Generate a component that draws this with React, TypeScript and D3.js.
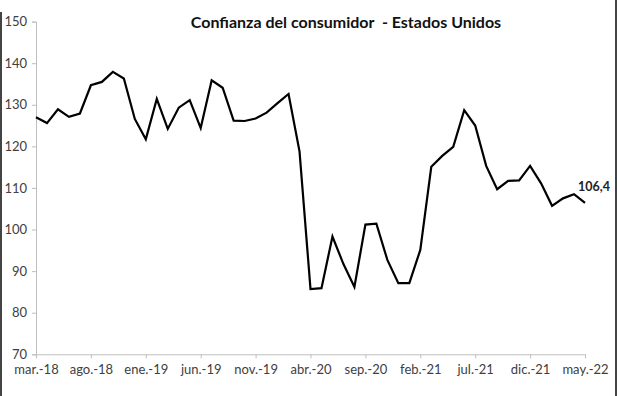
import { useEffect, useRef } from "react";
import * as d3 from "d3";

// monthly values, mar-18 .. may-22
const values = [
  127.0, 125.6, 128.9, 127.1, 127.9, 134.7, 135.5, 137.9, 136.3, 126.6,
  121.7, 131.4, 124.2, 129.3, 131.1, 124.4, 135.9, 134.1, 126.2, 126.1,
  126.7, 128.1, 130.4, 132.6, 118.8, 85.7, 85.9, 98.3, 91.7, 86.2,
  101.2, 101.4, 92.7, 87.1, 87.1, 95.1, 115.1, 117.7, 119.9, 128.7,
  125.0, 115.3, 109.7, 111.7, 111.8, 115.3, 111.1, 105.7, 107.5, 108.5,
  106.4,
];
const tickLabels = [
  "mar.-18", "ago.-18", "ene.-19", "jun.-19", "nov.-19", "abr.-20",
  "sep.-20", "feb.-21", "jul.-21", "dic.-21", "may.-22",
];
const yTicks = [70, 80, 90, 100, 110, 120, 130, 140, 150];
const title = "Confianza del consumidor  - Estados Unidos";
const lastLabel = "106,4";

const W = 617;
const H = 396;
const font = "Lato, 'Open Sans', sans-serif";

const App = () => {
  const svgRef = useRef<SVGSVGElement>(null);

  useEffect(() => {
    const svg = d3.select(svgRef.current);
    svg.selectAll("*").remove();

    const left = 36;
    const right = 585;
    const top = 21.6;
    const bottom = 354.3;

    const x = d3.scaleLinear().domain([0, values.length - 1]).range([left, right]);
    const y = d3.scaleLinear().domain([70, 150]).range([bottom, top]);

    svg.append("rect").attr("width", W).attr("height", H).attr("fill", "white");

    // frame edges
    svg.append("line").attr("x1", 1).attr("x2", 1).attr("y1", 12).attr("y2", H)
      .attr("stroke", "#444").attr("stroke-width", 2);
    svg.append("line").attr("x1", 616).attr("x2", 616).attr("y1", 0).attr("y2", H)
      .attr("stroke", "#444").attr("stroke-width", 2);

    // y axis
    const yAxis = svg.append("g")
      .attr("transform", `translate(${left},0)`)
      .call(d3.axisLeft(y).tickValues(yTicks).tickSize(4).tickPadding(5));
    yAxis.select(".domain").attr("stroke", "#bfbfbf");
    yAxis.selectAll(".tick line").attr("stroke", "#bfbfbf");
    yAxis.selectAll("text")
      .attr("fill", "#404040")
      .style("font-family", font)
      .style("font-size", "13px");

    // x axis
    const xAxis = svg.append("g")
      .attr("transform", `translate(0,${bottom})`)
      .call(
        d3.axisBottom(x)
          .tickValues(tickLabels.map((_, i) => i * 5))
          .tickFormat((_, i) => tickLabels[i])
          .tickSize(4)
          .tickSizeOuter(0)
          .tickPadding(6)
      );
    xAxis.select(".domain").attr("stroke", "#bfbfbf");
    xAxis.selectAll(".tick line").attr("stroke", "#bfbfbf");
    xAxis.selectAll("text")
      .attr("fill", "#404040")
      .style("font-family", font)
      .style("font-size", "13px");

    // line
    const line = d3.line<number>()
      .x((_, i) => x(i))
      .y((d) => y(d));

    svg.append("path")
      .datum(values)
      .attr("fill", "none")
      .attr("stroke", "black")
      .attr("stroke-width", 2.2)
      .attr("stroke-linejoin", "miter")
      .attr("d", line);

    // last value label
    svg.append("text")
      .attr("x", x(values.length - 1) - 7)
      .attr("y", y(values[values.length - 1]) - 12)
      .attr("fill", "#222")
      .style("font-family", font)
      .style("font-size", "12.5px")
      .style("font-weight", "bold")
      .text(lastLabel);

    // title
    svg.append("text")
      .attr("x", 346)
      .attr("y", 28)
      .attr("text-anchor", "middle")
      .attr("fill", "#111")
      .style("font-family", font)
      .style("font-size", "16px")
      .style("font-weight", "bold")
      .style("white-space", "pre")
      .text(title);
  }, []);

  return (
    <div style={{ position: "fixed", left: 0, top: 0 }}>
      <svg ref={svgRef} width={W} height={H} style={{ display: "block" }} />
    </div>
  );
};

export default App;
